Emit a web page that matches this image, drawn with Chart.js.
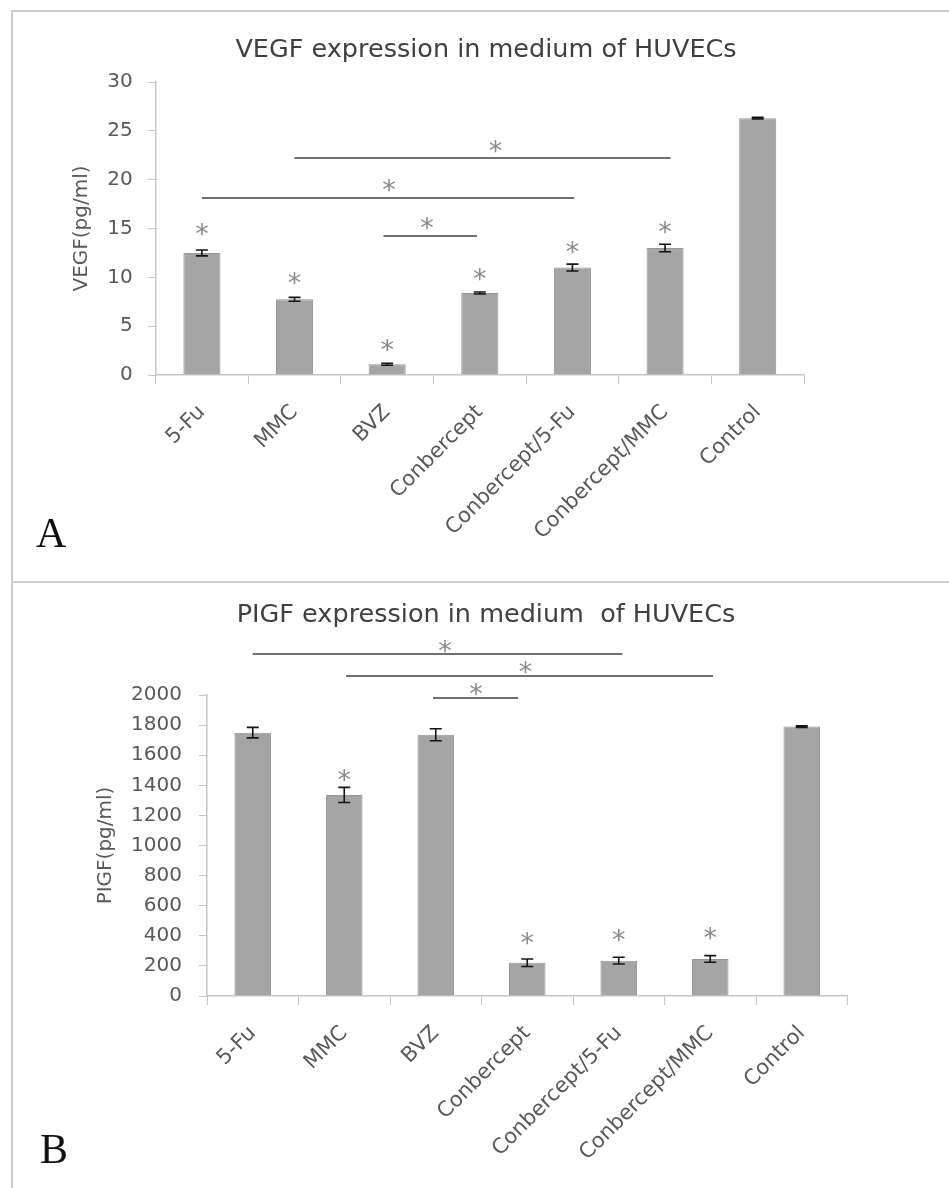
<!DOCTYPE html>
<html>
<head>
<meta charset="utf-8">
<script src="https://cdn.jsdelivr.net/npm/chart.js@4.4.1/dist/chart.umd.min.js"></script>
<style>
  body { margin: 0; background: #fff; width: 949px; height: 1188px; position: relative; overflow: hidden; }
  .panel { position: absolute; left: 11px; width: 938px; box-sizing: border-box;
           border-top: 2px solid #cbcbcb; border-left: 2px solid #cbcbcb; }
  #panelA { top: 10px; height: 572px; }
  #panelB { top: 581px; height: 607px; }
  canvas { position: absolute; }
  #chartA { left: 13px; top: 12px; }
  #chartB { left: 13px; top: 584px; }
  .letter { position: absolute; font-family: "Liberation Serif", serif; font-size: 42px; line-height: 42px; color: #111; }
</style>
</head>
<body>
<div class="panel" id="panelA"></div>
<div class="panel" id="panelB"></div>
<canvas id="chartA" width="936" height="568"></canvas>
<canvas id="chartB" width="936" height="604"></canvas>
<div class="letter" style="left:36px; top:512px;">A</div>
<div class="letter" style="left:40px; top:1128px;">B</div>
<script>
// groups on the x axis
const groups = ["5-Fu", "MMC", "BVZ", "Conbercept", "Conbercept/5-Fu", "Conbercept/MMC", "Control"];

// panel A: VEGF (pg/ml)
const vegfMean = [12.5, 7.75, 1.1, 8.4, 11.0, 13.0, 26.3];
const vegfErr = [0.3, 0.2, 0.1, 0.1, 0.35, 0.38, 0.08];
const vegfStars = [15.2, 10.1, 3.3, 10.5, 13.3, 15.35, null];
// [from group, to group, height]
const vegfBrackets = [[1, 5.06, 22.2], [0, 4.02, 18.1], [1.96, 2.97, 14.2]];
// [group position, height]
const vegfBracketStars = [[3.17, 23.7], [2.02, 19.65], [2.43, 15.8]];

// panel B: PIGF (pg/ml)
const pigfMean = [1750, 1336, 1736, 221, 235, 246, 1790];
const pigfErr = [35, 50, 40, 25, 22, 22, 5];
const pigfStars = [null, 1484, null, 399, 420, 434, null];
const pigfBrackets = [[0, 4.04, 2272], [1.02, 5.03, 2128], [1.97, 2.9, 1982]];
const pigfBracketStars = [[2.1, 2339], [2.98, 2199], [2.44, 2055]];

const FONT = '"DejaVu Sans", sans-serif';

// error bars, asterisks and significance lines
const extras = {
  id: 'extras',
  afterDatasetsDraw(chart, args, opts) {
    const ctx = chart.ctx;
    const x = chart.scales.x, y = chart.scales.y;
    ctx.save();

    ctx.strokeStyle = '#151515';
    ctx.lineWidth = 1.6;
    opts.mean.forEach((v, i) => {
      const px = x.getPixelForValue(i);
      const t = y.getPixelForValue(v + opts.err[i]);
      const b = y.getPixelForValue(v - opts.err[i]);
      ctx.beginPath();
      ctx.moveTo(px, t); ctx.lineTo(px, b);
      ctx.moveTo(px - 6, t); ctx.lineTo(px + 6, t);
      ctx.moveTo(px - 6, b); ctx.lineTo(px + 6, b);
      ctx.stroke();
    });

    ctx.fillStyle = '#8a8a8a';
    ctx.font = '27px ' + FONT;
    ctx.textAlign = 'center';
    ctx.textBaseline = 'alphabetic';
    const star = (gx, v) => ctx.fillText('*', x.getPixelForValue(gx), y.getPixelForValue(v) + 16);
    opts.stars.forEach((s, i) => { if (s !== null) star(i, s); });
    opts.bracketStars.forEach(s => star(s[0], s[1]));

    ctx.strokeStyle = '#6f6f6f';
    ctx.lineWidth = 2;
    opts.brackets.forEach(b => {
      const py = Math.round(y.getPixelForValue(b[2]));
      ctx.beginPath();
      ctx.moveTo(x.getPixelForValue(b[0]), py);
      ctx.lineTo(x.getPixelForValue(b[1]), py);
      ctx.stroke();
    });
    ctx.restore();
  }
};

function makeChart(id, cfg) {
  return new Chart(document.getElementById(id), {
    type: 'bar',
    data: {
      labels: groups,
      datasets: [{
        data: cfg.mean,
        backgroundColor: '#a5a5a5',
        borderColor: '#959595',
        borderWidth: 1,
        barPercentage: 0.4,
        categoryPercentage: 1
      }]
    },
    options: {
      responsive: false,
      animation: false,
      layout: { padding: { top: 0, left: 10, bottom: 0, right: 0 } },
      plugins: {
        legend: { display: false },
        tooltip: { enabled: false },
        title: {
          display: true,
          text: cfg.title,
          color: '#404040',
          font: { family: FONT, size: 25.5, weight: 'normal' },
          padding: { top: cfg.titleTop, bottom: cfg.titleBottom }
        },
        extras: cfg
      },
      scales: {
        x: {
          afterFit: s => { s.height = cfg.xHeight; },
          border: { color: '#c6c6c6', width: 1.5 },
          grid: { drawOnChartArea: false, color: '#c6c6c6', tickLength: 9, offset: true },
          ticks: {
            color: '#595959', font: { family: FONT, size: 21 },
            minRotation: 45, maxRotation: 45, padding: 16, autoSkip: false
          }
        },
        y: {
          min: 0, max: cfg.max,
          afterFit: s => { s.width = cfg.yWidth - 10; },
          border: { color: '#c6c6c6', width: 1.5 },
          grid: { drawOnChartArea: false, color: '#c6c6c6', tickLength: 8 },
          ticks: {
            stepSize: cfg.step, color: '#595959', font: { family: FONT, size: 20 },
            padding: cfg.tickPad, callback: v => String(v)
          },
          title: {
            display: true, text: cfg.yTitle, color: '#595959',
            font: { family: FONT, size: 20 },
            padding: { top: cfg.yTitlePad - 10, bottom: 0 }
          }
        },
        // empty spacer on the right so the plot stops where the original does
        spacer: {
          position: 'right', min: 0, max: 1,
          afterFit: s => { s.width = cfg.padRight; },
          border: { display: false },
          grid: { display: false },
          ticks: { display: false }
        }
      }
    },
    plugins: [extras]
  });
}

makeChart('chartA', {
  title: 'VEGF expression in medium of HUVECs',
  yTitle: 'VEGF(pg/ml)',
  mean: vegfMean, err: vegfErr, stars: vegfStars,
  brackets: vegfBrackets, bracketStars: vegfBracketStars,
  max: 30, step: 5,
  titleTop: 22.7, titleBottom: 16.7,
  yWidth: 142.6, xHeight: 205, padRight: 145,
  tickPad: 15, yTitlePad: 57
});

makeChart('chartB', {
  title: 'PIGF expression in medium  of HUVECs',
  yTitle: 'PIGF(pg/ml)',
  mean: pigfMean, err: pigfErr, stars: pigfStars,
  brackets: pigfBrackets, bracketStars: pigfBracketStars,
  max: 2000, step: 200,
  titleTop: 15.7, titleBottom: 64.7,
  yWidth: 194, xHeight: 192, padRight: 101.5,
  tickPad: 17, yTitlePad: 81
});
</script>
</body>
</html>
